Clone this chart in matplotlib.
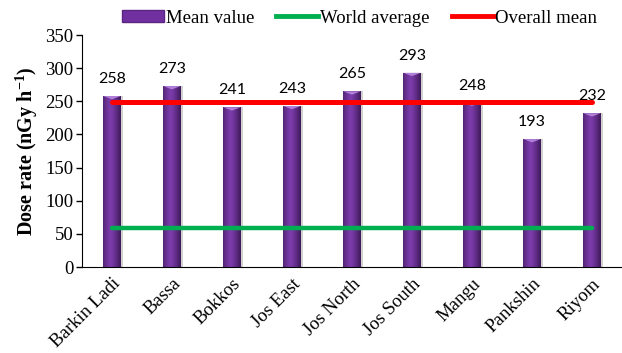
import numpy as np
from matplotlib import pyplot as plt
from matplotlib.patches import Patch
from matplotlib.lines import Line2D

districts = ["Barkin Ladi", "Bassa", "Bokkos", "Jos East", "Jos North",
             "Jos South", "Mangu", "Pankshin", "Riyom"]
mean_values = [258, 273, 241, 243, 265, 293, 248, 193, 232]
world_average = 59
overall_mean = 249.6
y_ticks = [0, 50, 100, 150, 200, 250, 300, 350]

serif = "Liberation Serif"
purple = "#7030A0"

plt.rcParams["mathtext.fontset"] = "custom"
plt.rcParams["mathtext.rm"] = "Liberation Serif:bold"
plt.rcParams["mathtext.bf"] = "Liberation Serif:bold"
plt.rcParams["mathtext.it"] = "Liberation Serif:bold"

fig = plt.figure(figsize=(6.22, 3.53), dpi=100)
ax = fig.add_axes([0.1318, 0.2436, 0.8682, 0.6572])

x = np.arange(len(districts))
w = 0.29

# soft shadow to the right of each cylinder
ax.bar(x + 0.04, mean_values, width=w, color="#000000", alpha=0.18, zorder=1)
bars = ax.bar(x, mean_values, width=w, color=purple, zorder=2)

# horizontal shading to fake the cylinder look
grad = np.linspace(0, 1, 64)
shade = 1 - 0.45 * np.abs(grad - 0.42) ** 1.3 * 2
rgb = np.array([0x70, 0x30, 0xA0]) / 255.0
img = np.clip(rgb[None, None, :] * shade[None, :, None] + 0.12 * (shade[None, :, None] - 0.6), 0, 1)
for b in bars:
    x0, h = b.get_x(), b.get_height()
    im = ax.imshow(img, extent=[x0, x0 + w, 0, h], aspect="auto", zorder=2.5,
                   interpolation="bilinear")
    im.set_clip_path(b)
    # lighter top cap
    ax.fill([x0, x0 + w, x0 + w / 2], [h, h, h - 5], color="#B07FD8", zorder=3, lw=0)

ax.plot([x[0], x[-1]], [world_average] * 2, color="#00B050", lw=3.2,
        solid_capstyle="round", zorder=4)
ax.plot([x[0], x[-1]], [overall_mean] * 2, color="#FF0000", lw=3.6,
        solid_capstyle="round", zorder=4)

for xi, v in zip(x, mean_values):
    ax.text(xi, v + 15, str(v), ha="center", va="bottom", fontsize=11.5,
            family="Lato", zorder=5)

ax.set_xlim(-0.5, 8.5)
ax.set_ylim(0, 350)
ax.set_yticks(y_ticks)
ax.set_yticklabels([str(t) for t in y_ticks], family=serif, fontsize=13.5)
ax.set_xticks(x)
ax.set_xticklabels(districts, rotation=45, ha="right", rotation_mode="anchor",
                   family=serif, fontsize=13.5)
ax.tick_params(axis="x", length=0, pad=6)
ax.tick_params(axis="y", length=4, width=1, pad=2)
ax.spines["top"].set_visible(False)
ax.spines["right"].set_visible(False)
ax.set_ylabel(r"Dose rate (nGy h$^{-1}$)", family=serif, fontsize=14.5,
              fontweight="bold", labelpad=4)

handles = [Patch(facecolor=purple, edgecolor="#5A2682"),
           Line2D([], [], color="#00B050", lw=3.5),
           Line2D([], [], color="#FF0000", lw=3.5)]
fig.legend(handles, ["Mean value", "World average", "Overall mean"],
           loc="center", bbox_to_anchor=(0.578, 0.949), ncol=3, frameon=False,
           prop={"family": serif, "size": 13.5}, handlelength=2.2,
           handleheight=0.55, handletextpad=0.1, columnspacing=1.2)

fig.savefig("out.png", dpi=100)
